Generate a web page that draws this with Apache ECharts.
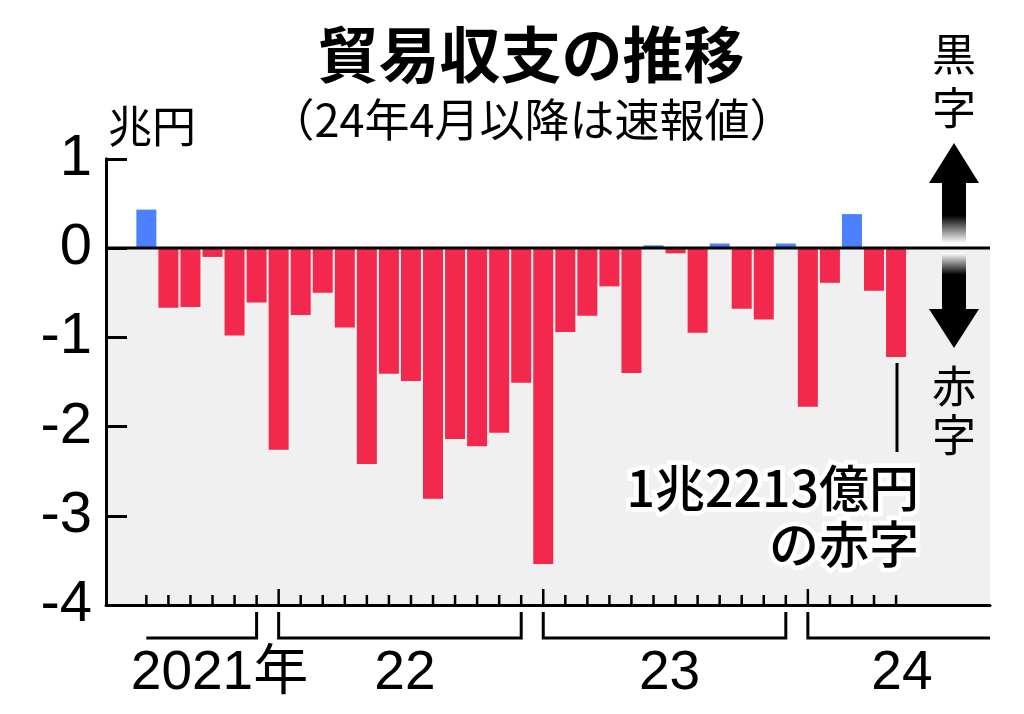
<!DOCTYPE html>
<html><head><meta charset="utf-8">
<script src="https://cdn.jsdelivr.net/npm/echarts/dist/echarts.min.js"></script>
<style>html,body{margin:0;padding:0;background:#fff}#c{width:1024px;height:714px}</style>
</head><body><div id="c"></div>
<script>
// ---- data ----
const months = [
  '2021-07','2021-08','2021-09','2021-10','2021-11','2021-12',
  '2022-01','2022-02','2022-03','2022-04','2022-05','2022-06','2022-07','2022-08','2022-09','2022-10','2022-11','2022-12',
  '2023-01','2023-02','2023-03','2023-04','2023-05','2023-06','2023-07','2023-08','2023-09','2023-10','2023-11','2023-12',
  '2024-01','2024-02','2024-03','2024-04','2024-05'
];
const balance = [
  0.43,-0.67,-0.66,-0.10,-0.98,-0.61,
  -2.26,-0.75,-0.50,-0.89,-2.42,-1.41,-1.49,-2.81,-2.14,-2.22,-2.07,-1.51,
  -3.54,-0.94,-0.76,-0.43,-1.40,0.03,-0.06,-0.95,0.05,-0.68,-0.80,0.05,
  -1.78,-0.39,0.38,-0.48,-1.22
];
const yearLabels = ['2021年','22','23','24'];
const yTickValues = [1,0,-1,-2,-3,-4];

// ---- derived ----
const xMin = -1.83, xMax = 38.26;
const yearStart = [], yearEnd = [];
yearLabels.forEach((_, k) => {
  const y = 2021 + k;
  const idx = months.map((m, i) => m.startsWith(String(y)) ? i : -1).filter(i => i >= 0);
  yearStart.push(idx[0]); yearEnd.push(idx[idx.length - 1]);
});
const labelDx = [18, 5, 5, 3];
const BLUE = '#4b80ff', RED = '#f2284c', GRAY = '#f0f0f0';

const chart = echarts.init(document.getElementById('c'), null, {renderer: 'canvas'});
const option = {
  animation: false,
  backgroundColor: '#fff',
  grid: {left: 106, right: 34, top: 158.75, bottom: 109, containLabel: false},
  xAxis: {
    type: 'value', min: xMin, max: xMax, position: 'bottom', z: 5,
    axisLine: {show: true, onZero: false, lineStyle: {color: '#000', width: 3}},
    axisTick: {show: false}, axisLabel: {show: false}, splitLine: {show: false}
  },
  yAxis: {
    type: 'value', min: -4, max: 1, interval: 1, z: 5, position: 'left',
    axisLine: {show: true, onZero: false, lineStyle: {color: '#000', width: 3}},
    axisTick: {show: true, inside: true, length: 21, lineStyle: {color: '#000', width: 3}},
    axisLabel: {
      show: true, color: '#000', fontSize: 58, fontFamily: '"Liberation Sans", Arial, sans-serif',
      margin: 14, lineHeight: 58, padding: [0, 0, 14, 0],
      formatter: v => yTickValues.includes(v) ? String(v) : ''
    },
    splitLine: {show: false}
  },
  series: [
    {
      type: 'custom', name: 'bg', silent: true, z: 0, clip: false, data: [[0]],
      renderItem: (p, api) => {
        const a = api.coord([xMin, 0]), b = api.coord([xMax, -4]);
        return {type: 'rect', shape: {x: a[0], y: a[1], width: b[0] - a[0], height: b[1] - a[1]}, style: {fill: GRAY}};
      }
    },
    {
      type: 'bar', name: '貿易収支', z: 2, barWidth: 20,
      data: balance.map((v, i) => [i, v]),
      itemStyle: {color: p => p.value[1] >= 0 ? BLUE : RED}
    },
    {
      type: 'custom', name: 'zero', silent: true, z: 4, clip: false, data: [[0]],
      renderItem: (p, api) => {
        const a = api.coord([xMin, 0]), b = api.coord([xMax, 0]);
        return {type: 'line', shape: {x1: a[0], y1: a[1], x2: b[0], y2: b[1]}, style: {stroke: '#000', lineWidth: 3}};
      }
    },
    {
      type: 'custom', name: 'ticks', silent: true, z: 4, clip: false,
      data: months.map((m, i) => [i, m.endsWith('-01') ? 1 : 0]),
      renderItem: (p, api) => {
        const c = api.coord([api.value(0), -4]);
        const h = api.value(1) ? 16 : 10;
        return {type: 'line', shape: {x1: c[0], y1: c[1], x2: c[0], y2: c[1] - h}, style: {stroke: '#000', lineWidth: 2.5}};
      }
    },
    {
      type: 'custom', name: 'years', silent: true, z: 4, clip: false,
      data: yearLabels.map((l, k) => [yearStart[k], yearEnd[k], k]),
      renderItem: (p, api) => {
        const k = api.value(2), last = yearLabels.length - 1;
        const base = api.coord([0, -4])[1];
        const x1 = api.coord([api.value(0), -4])[0];
        const x2 = k === last ? api.coord([xMax, -4])[0] : api.coord([api.value(1), -4])[0];
        const yTop = base + 7, yBot = base + 33;
        const pts = [];
        if (k > 0) pts.push([x1, yTop]);
        pts.push([x1, yBot]); pts.push([x2, yBot]);
        if (k < last) pts.push([x2, yTop]);
        return {type: 'group', children: [
          {type: 'polyline', shape: {points: pts}, style: {stroke: '#000', lineWidth: 3, fill: null}},
          {type: 'text', x: (x1 + x2) / 2 + labelDx[k], y: base + 69,
           style: {text: yearLabels[k], fill: '#000', font: '55px "Liberation Sans", "Noto Sans CJK JP", sans-serif',
                   align: 'center', verticalAlign: 'middle', textAlign: 'center', textVerticalAlign: 'middle'}}
        ]};
      }
    }
  ],
  graphic: [
    {type: 'text', x: 531, y: 55, z: 10,
     style: {text: '貿易収支の推移', fill: '#000', font: 'bold 61px "Noto Sans CJK JP", sans-serif',
             align: 'center', verticalAlign: 'middle', textAlign: 'center', textVerticalAlign: 'middle'}},
    {type: 'text', x: 532, y: 120, z: 10,
     style: {text: '（24年4月以降は速報値）', fill: '#000', font: '45px "Noto Sans CJK JP", sans-serif',
             align: 'center', verticalAlign: 'middle', textAlign: 'center', textVerticalAlign: 'middle'}},
    {type: 'text', x: 108, y: 126, z: 10,
     style: {text: '兆円', fill: '#000', font: '44px "Noto Sans CJK JP", sans-serif',
             align: 'left', verticalAlign: 'middle', textAlign: 'left', textVerticalAlign: 'middle'}},
    {type: 'text', x: 954, y: 54, z: 10,
     style: {text: '黒', fill: '#000', font: '44px "Noto Sans CJK JP", sans-serif', align: 'center', verticalAlign: 'middle', textAlign: 'center', textVerticalAlign: 'middle'}},
    {type: 'text', x: 954, y: 108, z: 10,
     style: {text: '字', fill: '#000', font: '44px "Noto Sans CJK JP", sans-serif', align: 'center', verticalAlign: 'middle', textAlign: 'center', textVerticalAlign: 'middle'}},
    {type: 'text', x: 954, y: 386, z: 10,
     style: {text: '赤', fill: '#000', font: '44px "Noto Sans CJK JP", sans-serif', align: 'center', verticalAlign: 'middle', textAlign: 'center', textVerticalAlign: 'middle'}},
    {type: 'text', x: 954, y: 435, z: 10,
     style: {text: '字', fill: '#000', font: '44px "Noto Sans CJK JP", sans-serif', align: 'center', verticalAlign: 'middle', textAlign: 'center', textVerticalAlign: 'middle'}},
    // arrows
    {type: 'polygon', z: 10, shape: {points: [[954, 143], [979, 183], [929, 183]]}, style: {fill: '#000'}},
    {type: 'rect', z: 10, shape: {x: 942, y: 182, width: 24, height: 61},
     style: {fill: new echarts.graphic.LinearGradient(0, 0, 0, 1, [
       {offset: 0, color: '#000'}, {offset: 0.55, color: '#000'}, {offset: 1, color: '#fff'}])}},
    {type: 'rect', z: 10, shape: {x: 942, y: 253, width: 24, height: 57},
     style: {fill: new echarts.graphic.LinearGradient(0, 0, 0, 1, [
       {offset: 0, color: '#fff'}, {offset: 0.38, color: '#000'}, {offset: 1, color: '#000'}])}},
    {type: 'polygon', z: 10, shape: {points: [[929, 309], [979, 309], [954, 348]]}, style: {fill: '#000'}},
    // annotation
    {type: 'line', z: 10, shape: {x1: 897, y1: 363, x2: 897, y2: 452}, style: {stroke: '#000', lineWidth: 3}},
    {type: 'text', x: 919, y: 488, z: 10,
     style: {text: '1兆2213億円', fill: '#000', stroke: '#fff', lineWidth: 9, font: '500 50px "Noto Sans CJK JP", sans-serif',
             align: 'right', verticalAlign: 'middle', textAlign: 'right', textVerticalAlign: 'middle'}},
    {type: 'text', x: 919, y: 544, z: 10,
     style: {text: 'の赤字', fill: '#000', stroke: '#fff', lineWidth: 9, font: '500 50px "Noto Sans CJK JP", sans-serif',
             align: 'right', verticalAlign: 'middle', textAlign: 'right', textVerticalAlign: 'middle'}}
  ]
};
chart.setOption(option);
</script>
</body></html>
